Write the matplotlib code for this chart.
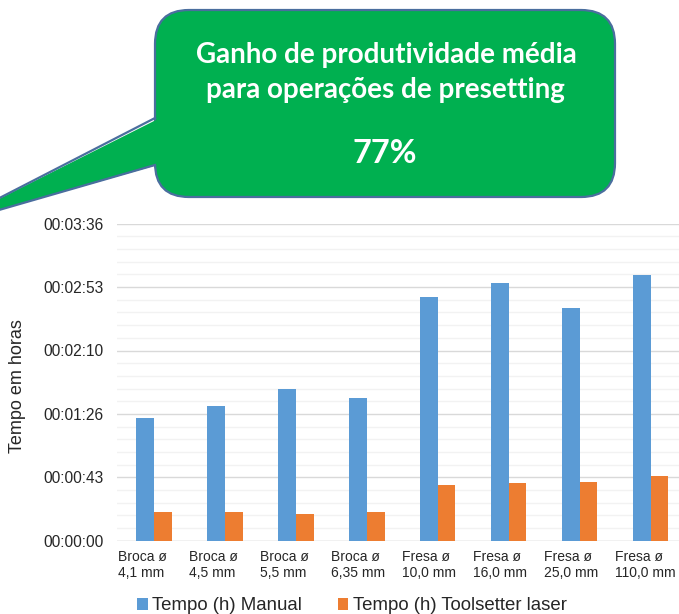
import numpy as np
import matplotlib
matplotlib.use("Agg")
import matplotlib.pyplot as plt
from matplotlib.patches import FancyBboxPatch, Polygon
from matplotlib.lines import Line2D
from matplotlib.transforms import Affine2D
from matplotlib.ticker import FuncFormatter, MultipleLocator

# tempos em segundos (eixo mostrado como hh:mm:ss)
categorias = ["Broca ø\n4,1 mm", "Broca ø\n4,5 mm", "Broca ø\n5,5 mm", "Broca ø\n6,35 mm",
              "Fresa ø\n10,0 mm", "Fresa ø\n16,0 mm", "Fresa ø\n25,0 mm", "Fresa ø\n110,0 mm"]
tempo_manual = [83.3, 91.5, 103.4, 97.2, 166.3, 175.3, 158.3, 181.2]
tempo_laser = [19.3, 19.3, 18.4, 19.3, 38.2, 39.3, 40.2, 44.1]
serie_nomes = ["Tempo (h) Manual", "Tempo (h) Toolsetter laser"]

W, H = 679, 614
plt.rcParams['font.family'] = ['Liberation Sans', 'DejaVu Sans']

fig = plt.figure(figsize=(W / 100, H / 100), dpi=100)
ax = fig.add_axes([117 / W, 1 - 540.7 / H, 1 - 117 / W, 317 / H])

x = np.arange(len(categorias))
bw = 0.25
b1 = ax.bar(x - bw / 2, tempo_manual, bw, color='#5B9BD5', zorder=3, label=serie_nomes[0])
b2 = ax.bar(x + bw / 2, tempo_laser, bw, color='#ED7D31', zorder=3, label=serie_nomes[1])

ax.set_xlim(-0.52, 7.40)
ax.set_ylim(0, 216)
ax.yaxis.set_major_locator(MultipleLocator(43.2))
ax.yaxis.set_minor_locator(MultipleLocator(8.64))


def hms(v, pos):
    s = int(round(v))
    return "%02d:%02d:%02d" % (s // 3600, (s % 3600) // 60, s % 60)


ax.yaxis.set_major_formatter(FuncFormatter(hms))
ax.grid(which='major', axis='y', color='#D9D9D9', lw=1.0, zorder=0)
ax.grid(which='minor', axis='y', color='#F2F2F2', lw=1.0, zorder=0)
for s in ax.spines.values():
    s.set_visible(False)
ax.axhline(0, color='#D9D9D9', lw=1.0, zorder=2)
ax.tick_params(axis='y', which='both', length=0, pad=9.5, labelsize=11.2, labelcolor='#262626')
ax.tick_params(axis='y', which='minor', labelleft=False)
ax.set_xticks(x - 0.5)
ax.set_xticklabels(categorias, ha='left', fontsize=10, color='#262626', linespacing=1.15)
ax.tick_params(axis='x', length=0, pad=7)

fig.text(18 / W, 1 - 386 / H, "Tempo em horas", rotation=90, ha='center', va='center',
         fontsize=13, color='#262626')

fig.legend(handles=[b1, b2], labels=serie_nomes, loc='center', ncol=2,
           bbox_to_anchor=(352 / W, 1 - 606 / H), frameon=False, fontsize=13.4,
           handlelength=0.56, handleheight=0.56, handletextpad=0.25, columnspacing=1.9,
           labelcolor='#262626')

# balão verde (coordenadas em pixels, y para cima)
tr = Affine2D().scale(1 / 100) + fig.dpi_scale_trans
green = '#00B050'
edge = '#4A6E9E'
box = FancyBboxPatch((155, H - 197), 460, 187, boxstyle="round,pad=0,rounding_size=34",
                     fc=green, ec=edge, lw=1.6, transform=tr, zorder=10)
fig.patches.append(box)
tip = (-53, H - 225)
p1 = (155, H - 118)
p2 = (155, H - 165)
poly = Polygon([(159, p1[1] - 0.5), tip, (159, p2[1] + 0.5)], closed=True, fc=green, ec='none',
               transform=tr, zorder=11)
fig.patches.append(poly)
for p in (p1, p2):
    fig.lines.append(Line2D([p[0], tip[0]], [p[1], tip[1]], color=edge, lw=1.6, transform=tr,
                            zorder=12))

fig.text(386, H - 63, "Ganho de produtividade média", transform=tr, ha='center', va='baseline',
         fontsize=20, fontweight='bold', color='white', family='Lato', zorder=13)
fig.text(385, H - 98, "para operações de presetting", transform=tr, ha='center', va='baseline',
         fontsize=20, fontweight='bold', color='white', family='Lato', zorder=13)
fig.text(385, H - 163, "77%", transform=tr, ha='center', va='baseline',
         fontsize=23.5, fontweight='bold', color='white', family='Lato', zorder=13)

fig.savefig("out.png", dpi=100)
